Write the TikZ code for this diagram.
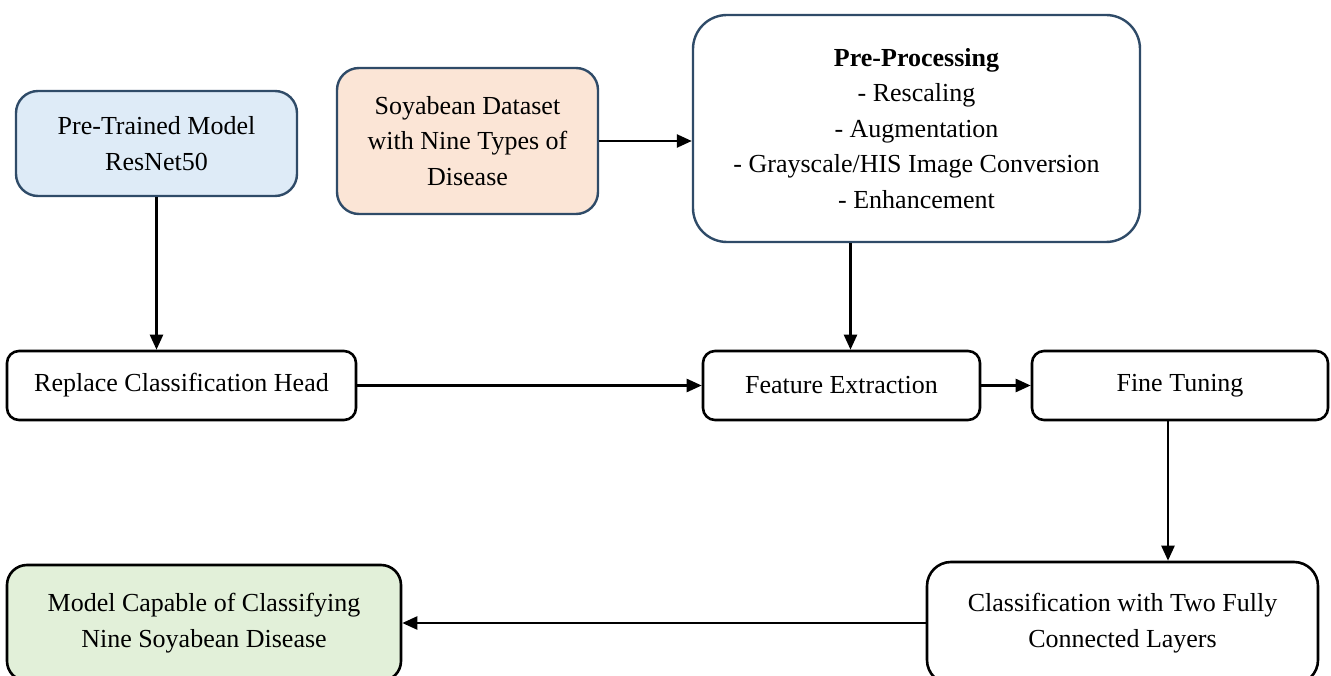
\documentclass[tikz,border=0pt]{standalone}
\usepackage{fontspec}
\setmainfont{Liberation Serif}
\usetikzlibrary{positioning}
\usetikzlibrary{arrows.meta}
\definecolor{blueFill}{HTML}{DEEBF7}
\definecolor{peachFill}{HTML}{FBE5D6}
\definecolor{greenFill}{HTML}{E2F0D9}
\definecolor{edgeBlue}{HTML}{2F4B68}
\tikzset{
    box/.style = {rectangle,draw,line width=2.6pt,rounded corners=12pt,align=center,inner sep=0pt,
        font=\fontsize{26}{35.5}\selectfont},
    softbox/.style = {box,draw=edgeBlue,line width=2.4pt,rounded corners=22pt},
    flow/.style = {-{Triangle[length=15pt,width=13pt]},line width=2.4pt}}
\begin{document}
\begin{tikzpicture}[x=1pt,y=-1pt]
    \clip (0,0) rectangle (1331,676);
    \node[softbox,fill=blueFill,minimum width=281pt,minimum height=105pt] (pretrained) at (156.5,143.5) {Pre-Trained Model\\ResNet50};
    \node[softbox,fill=peachFill,minimum width=261pt,minimum height=146pt] (dataset) at (467.5,141) {Soyabean Dataset\\with Nine Types of\\Disease};
    \node[softbox,fill=white,rounded corners=34pt,minimum width=447pt,minimum height=227pt] (preproc) at (916.5,128.5)
        {\textbf{Pre-Processing}\\- Rescaling\\- Augmentation\\- Grayscale/HIS Image Conversion\\- Enhancement};
    \node[box,minimum width=349pt,minimum height=69pt] (replace) at (181.5,385.5) {Replace Classification Head};
    \node[box,minimum width=277pt,minimum height=69pt] (featext) at (841.5,385.5) {Feature Extraction};
    \node[box,minimum width=296pt,minimum height=69pt] (finetune) at (1180,385.5) {Fine Tuning};
    \node[box,rounded corners=24pt,minimum width=391pt,minimum height=122pt] (classify) at (1122.5,623) {Classification with Two Fully\\Connected Layers};
    \node[box,fill=greenFill,rounded corners=20pt,minimum width=394pt,minimum height=116pt] (result) at (204,623) {Model Capable of Classifying\\Nine Soyabean Disease};
    % connectors
    \draw[flow] (pretrained.south) -- (pretrained.south |- replace.north);
    \draw[flow] (dataset.east) -- (dataset.east -| preproc.west);
    \draw[flow] ([xshift=9pt]featext.north |- preproc.south) -- ([xshift=9pt]featext.north);
    \draw[flow] (replace.east) -- (featext.west);
    \draw[flow] (featext.east) -- (finetune.west);
    \draw[flow] ([xshift=-12pt]finetune.south) -- ([xshift=-12pt]finetune.south |- classify.north);
    \draw[flow] (classify.west) -- (result.east);
\end{tikzpicture}
\end{document}
